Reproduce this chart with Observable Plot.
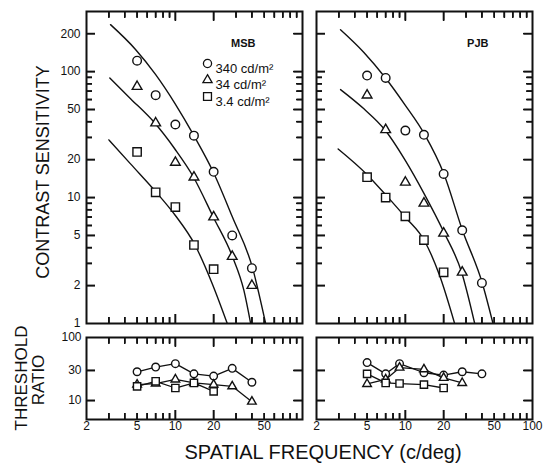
<!DOCTYPE html>
<html><head><meta charset="utf-8">
<script src="https://cdn.jsdelivr.net/npm/d3@7"></script>
<script src="https://cdn.jsdelivr.net/npm/@observablehq/plot@0.6"></script>
<style>
body{margin:0;background:#fff;}
#fig{position:relative;width:550px;height:464px;font-family:"Liberation Sans",Arial,sans-serif;color:#111;overflow:hidden;}
#fig svg{position:absolute;}
.lbl{position:absolute;white-space:nowrap;color:#111;line-height:1;}
.rot{transform:translate(-50%,-50%) rotate(-90deg);}
.ctr{transform:translate(-50%,-50%);}
</style></head><body><div id="fig"></div>
<script>
// ---------- data ----------
// Contrast sensitivity, observer MSB
const freqMSB = [5, 7, 10, 14, 20, 28, 40];
const msb340 = [122, 65, 38, 31, 16, 5.0, 2.75];
const msb34  = [76, 39, 19, 14.5, 7, 3.4, 2.0];
const msb3_4 = [23, 11, 8.4, 4.2, 2.7];
// fitted curves, MSB
const msbCurve340F = [3.09, 4.86, 6.98, 9.91, 14.0, 19.9, 28.1, 40.3, 51.3];
const msbCurve340S = [236, 150, 95, 56, 31, 15.9, 7.0, 2.8, 1];
const msbCurve34F  = [3.05, 4.44, 6.86, 9.91, 13.8, 19.9, 28.1, 34.6, 39.1];
const msbCurve34S  = [89, 61, 39.2, 24.3, 14.7, 6.98, 3.4, 1.83, 1];
const msbCurve3_4F = [3.0, 4.44, 7.08, 10.0, 14.2, 19.5, 25.6];
const msbCurve3_4S = [28.7, 18.5, 11.0, 7.2, 4.24, 2.07, 1];

// Contrast sensitivity, observer PJB
const freqPJB = [5, 7, 10, 14, 20, 28, 40];
const pjb340 = [93, 89, 34, 31.5, 15.4, 5.5, 2.1];
const pjb34  = [65, 34.5, 13.2, 9.0, 5.2, 2.55];
const pjb3_4 = [14.5, 10, 7.1, 4.6, 2.55];
// fitted curves, PJB
const pjbCurve340F = [3.09, 4.72, 6.98, 9.9, 14.2, 20.1, 28.1, 40.3, 48.9];
const pjbCurve340S = [215, 142, 89, 54.7, 31.6, 15.4, 5.5, 2.09, 1];
const pjbCurve34F  = [3.09, 4.72, 6.9, 9.9, 14.0, 20.1, 27.7, 35.1];
const pjbCurve34S  = [72, 50.6, 34.5, 20, 10.8, 5.3, 2.55, 1];
const pjbCurve3_4F = [2.96, 5.0, 7.07, 10.0, 14.2, 18.6, 24.4];
const pjbCurve3_4S = [24.3, 15.2, 10.4, 6.98, 4.5, 2.4, 1];

// Threshold ratio
const ratioFreqMSB = [5, 7, 10, 14, 20, 28, 40];
const ratioMSB340 = [28.6, 34, 38.5, 26.5, 24.4, 32.4, 19.5];
const ratioMSB34  = [17.9, 18.6, 21.6, 19, 17.9, 16.8, 9.6];
const ratioMSB3_4 = [16.8, 20.2, 15.8, 19, 14];
const ratioFreqPJB = [5, 7, 9, 14, 20, 28, 40];
const ratioPJB340 = [40, 26.5, 38.5, 27.6, 25.3, 28.6, 26.5];
const ratioPJB34  = [18.3, 21.6, 33.2, 31.3, 22.9, 19];
const ratioPJB3_4 = [26.5, 19, 18.6, 17.9, 15.8];

// ticks and labels
const xMinorTicks = [3, 4, 5, 6, 7, 8, 9, 30, 40, 50, 60, 70, 80, 90];
const xMajorTicks = [10, 20];
const csMinorTicks = [3, 4, 6, 7, 8, 9, 30, 40, 60, 70, 80, 90];
const csMajorTicks = [2, 5, 10, 20, 50, 100, 200];
const csLabels = [1, 2, 5, 10, 20, 50, 100, 200];
const ratioMajorTicks = [10, 30];
const ratioLabels = [10, 30, 100];
const xLabelsLeft = [2, 5, 10, 20, 50];
const xLabelsRight = [2, 5, 10, 20, 50, 100];
const legendLabels = ["340 cd/m²", "34 cd/m²", "3.4 cd/m²"];
const symbols = ["circle", "triangle", "square"];

// ---------- helpers ----------
const zip = (xs, ys) => ys.map((y, i) => ({f: xs[i], v: y}));
const INK = "#111";
const FONT = "Liberation Sans, Arial, sans-serif";
const symR = {circle: 4.3, triangle: 3.6, square: 4.7};
const symRs = {circle: 3.8, triangle: 3.2, square: 4.1};
const FW = 216; // frame width in px

function tickMarks(H, yMinor, yMajor) {
  const o = {stroke: INK, strokeWidth: 1.6};
  const m = [];
  for (const [arr, len] of [[xMinorTicks, 6], [xMajorTicks, 9]]) {
    m.push(Plot.tickX(arr, {...o, x: d => d, insetBottom: H - len}));
    m.push(Plot.tickX(arr, {...o, x: d => d, insetTop: H - len}));
    for (const a of ["top", "bottom"]) m.push(Plot.axisX(arr, {...o, anchor: a, tickSize: -len, fill: "none", label: null}));
  }
  for (const [arr, len] of [[yMinor, 6], [yMajor, 9]]) {
    if (!arr.length) continue;
    m.push(Plot.tickY(arr, {...o, y: d => d, insetRight: FW - len}));
    m.push(Plot.tickY(arr, {...o, y: d => d, insetLeft: FW - len}));
    for (const a of ["left", "right"]) m.push(Plot.axisY(arr, {...o, anchor: a, tickSize: -len, fill: "none", label: null}));
  }
  m.push(Plot.frame({stroke: INK, strokeWidth: 2}));
  return m;
}

function dots(data, sym, small) {
  return Plot.dot(data, {x: "f", y: "v", symbol: sym, r: (small ? symRs : symR)[sym],
    stroke: INK, fill: "white", strokeWidth: 1.4});
}

const fig = document.getElementById("fig");

// a panel = data layer + frame/tick layer sharing identical scales and margins
function place(common, marks, tickLayer, left, top) {
  for (const mk of [marks, tickLayer]) {
    const svg = Plot.plot({...common, marks: mk});
    svg.style.left = left + "px"; svg.style.top = top + "px";
    fig.append(svg);
  }
}

function csPanel({left, width, ml, mr, points, curves, name, nameDx, legend, yLabels}) {
  const marks = [
    ...curves.map(c => Plot.line(c, {x: "f", y: "v", curve: "monotone-x", stroke: INK, strokeWidth: 1.4, clip: true})),
    ...points.map((p, i) => dots(p, symbols[i], false)),
    Plot.text([name], {frameAnchor: "top-right", dx: nameDx, dy: 28, fontWeight: "bold", fontSize: 11, fill: INK})
  ];
  if (yLabels) marks.push(Plot.text(csLabels, {y: d => d, text: d => String(d), frameAnchor: "left", dx: -6, textAnchor: "end", fontSize: 12, fill: INK}));
  if (legend) {
    legendLabels.forEach((t, i) => {
      marks.push(Plot.dot([t], {frameAnchor: "top-left", dx: 121, dy: 52 + i * 16.5, symbol: symbols[i], r: symR[symbols[i]] * 0.95, stroke: INK, fill: "white", strokeWidth: 1.3}));
      marks.push(Plot.text([t], {frameAnchor: "top-left", dx: 129, dy: 52 + i * 16.5, textAnchor: "start", fontSize: 13, fill: INK}));
    });
  }
  const common = {
    width, height: 330, marginLeft: ml, marginRight: mr, marginTop: 11, marginBottom: 7,
    x: {type: "log", domain: [2, 100], label: null, axis: null},
    y: {type: "log", domain: [1, 300], label: null, axis: null},
    style: {fontFamily: FONT, fontSize: "12px", color: INK, background: "none", overflow: "visible"}
  };
  place(common, marks, tickMarks(312, csMinorTicks, csMajorTicks), left, 0);
}

function ratioPanel({left, width, ml, mr, points, xLabels, yLabels}) {
  const marks = [
    ...points.map(p => Plot.line(p, {x: "f", y: "v", stroke: INK, strokeWidth: 1.3})),
    ...points.map((p, i) => dots(p, symbols[i], true)),
    Plot.text(xLabels, {x: d => d, text: d => String(d), frameAnchor: "bottom", dy: 10, fontSize: 12, fill: INK})
  ];
  if (yLabels) marks.push(Plot.text(ratioLabels, {y: d => d, text: d => String(d), frameAnchor: "left", dx: -5, textAnchor: "end", fontSize: 12, fill: INK}));
  const common = {
    width, height: 134, marginLeft: ml, marginRight: mr, marginTop: 7, marginBottom: 45,
    x: {type: "log", domain: [2, 100], label: null, axis: null},
    y: {type: "log", domain: [5, 100], label: null, axis: null},
    style: {fontFamily: FONT, fontSize: "12px", color: INK, background: "none", overflow: "visible"}
  };
  place(common, marks, tickMarks(82, [], ratioMajorTicks), left, 330);
}

csPanel({
  left: 0, width: 310, ml: 86, mr: 8, name: "MSB", nameDx: -47, legend: true, yLabels: true,
  points: [zip(freqMSB, msb340), zip(freqMSB, msb34), zip(freqMSB, msb3_4)],
  curves: [zip(msbCurve340F, msbCurve340S), zip(msbCurve34F, msbCurve34S), zip(msbCurve3_4F, msbCurve3_4S)]
});
csPanel({
  left: 310, width: 240, ml: 6, mr: 18, name: "PJB", nameDx: -44, legend: false, yLabels: false,
  points: [zip(freqPJB, pjb340), zip(freqPJB, pjb34), zip(freqPJB, pjb3_4)],
  curves: [zip(pjbCurve340F, pjbCurve340S), zip(pjbCurve34F, pjbCurve34S), zip(pjbCurve3_4F, pjbCurve3_4S)]
});
ratioPanel({
  left: 0, width: 310, ml: 86, mr: 8, xLabels: xLabelsLeft, yLabels: true,
  points: [zip(ratioFreqMSB, ratioMSB340), zip(ratioFreqMSB, ratioMSB34), zip(ratioFreqMSB, ratioMSB3_4)]
});
ratioPanel({
  left: 310, width: 240, ml: 6, mr: 18, xLabels: xLabelsRight, yLabels: false,
  points: [zip(ratioFreqPJB, ratioPJB340), zip(ratioFreqPJB, ratioPJB34), zip(ratioFreqPJB, ratioPJB3_4)]
});

function label(text, x, y, size, cls) {
  const d = document.createElement("div");
  d.className = "lbl " + cls;
  d.textContent = text;
  d.style.left = x + "px"; d.style.top = y + "px"; d.style.fontSize = size + "px";
  fig.append(d);
}
label("CONTRAST SENSITIVITY", 43, 172, 18, "rot");
label("THRESHOLD", 21, 378, 17, "rot");
label("RATIO", 38, 380, 17, "rot");
label("SPATIAL FREQUENCY (c/deg)", 323, 452, 20, "ctr");
</script></body></html>
